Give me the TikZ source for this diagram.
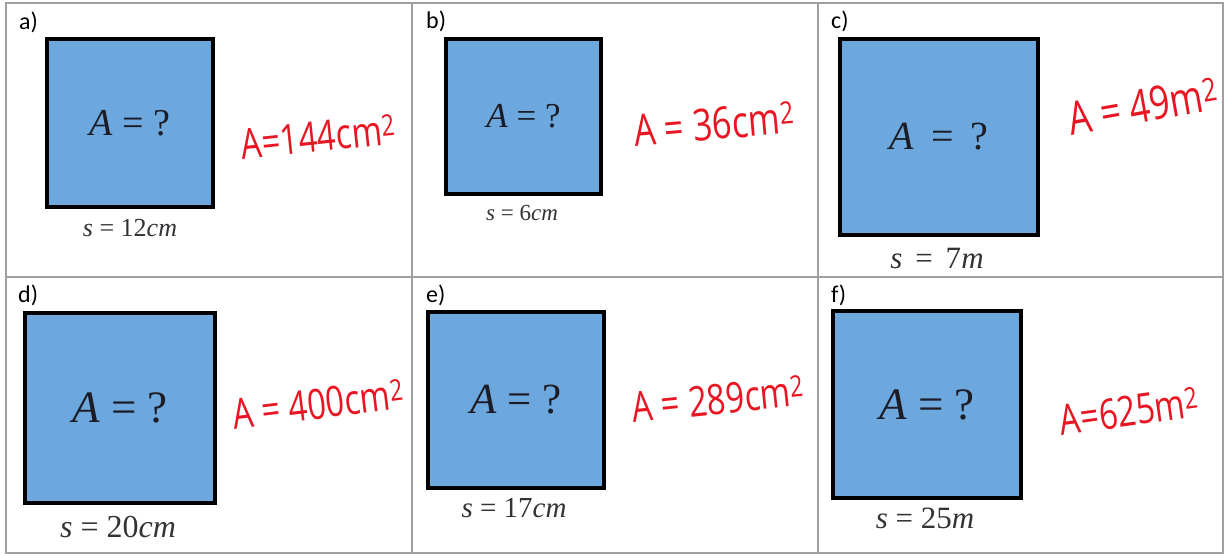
\documentclass[tikz,border=0pt]{standalone}
\usepackage{fontspec}
\setmainfont{Liberation Serif}
\newfontfamily\labfont{Carlito}
\newfontfamily\handfont{Open Sans}
\definecolor{sqblue}{RGB}{108,168,221}
\definecolor{gridgray}{RGB}{160,160,160}
\definecolor{inkred}{RGB}{232,22,34}
\definecolor{txtdark}{RGB}{28,28,38}
\definecolor{txtside}{RGB}{50,50,55}
\tikzset{
  sq/.style={draw=black, line width=3.4pt, fill=sqblue, inner sep=0pt, text=txtdark},
  sidelab/.style={text=txtside, inner sep=0pt},
  cell/.style={anchor=base west, inner sep=0pt, text=black, font=\labfont\fontsize{24}{26}\selectfont},
  ink/.style={text=inkred, inner sep=0pt},
  gridline/.style={draw=gridgray, line width=1.4pt}
}
\newcommand{\fsz}[1]{\fontsize{#1}{#1}\selectfont}
\newcommand{\hw}[2]{\scalebox{0.78}[1]{\handfont\fsz{#1}#2}}
\begin{document}
\begin{tikzpicture}[x=1pt,y=-1pt]
\useasboundingbox (0,0) rectangle (1228,555);
% table grid
\draw[gridline] (6,3) rectangle (1223,553);
\draw[gridline] (412,3) -- (412,553);
\draw[gridline] (818,3) -- (818,553);
\draw[gridline] (6,277) -- (1223,277);
% cell labels
\node[cell] (la) at (19,29) {a)};
\node[cell] (lb) at (426,28) {b)};
\node[cell] (lc) at (831,28) {c)};
\node[cell] (ld) at (18,302) {d)};
\node[cell] (le) at (426,302) {e)};
\node[cell] (lf) at (831,302) {f)};
% squares
\node[sq, minimum width=166pt, minimum height=168pt, font=\fsz{38}] (sqa) at (130,123) {{\itshape A} = ?};
\node[sq, minimum width=155pt, minimum height=155pt, font=\fsz{35}] (sqb) at (523.5,116.5) {\raisebox{-6pt}{{\itshape A} = ?}};
\node[sq, minimum width=198pt, minimum height=196pt, font=\fsz{40}] (sqc) at (939,137) {\raisebox{-6pt}{{\itshape A}\, = \,?}};
\node[sq, minimum width=190pt, minimum height=190pt, font=\fsz{45}] (sqd) at (120,408) {{\itshape A} = ?};
\node[sq, minimum width=176pt, minimum height=176pt, font=\fsz{43}] (sqe) at (516,400) {{\itshape A} = ?};
\node[sq, minimum width=188pt, minimum height=187pt, font=\fsz{45}] (sqf) at (927,404.5) {\raisebox{-4pt}{{\itshape A} = ?}};
% side lengths
\node[sidelab, font=\fsz{26}] (sa) at (130,228) {{\itshape s} = 12{\itshape cm}};
\node[sidelab, font=\fsz{23}] (sb) at (522,213) {{\itshape s} = 6{\itshape cm}};
\node[sidelab, font=\fsz{31}] (sc) at (937,258) {{\itshape s}\, = \,7{\itshape m}};
\node[sidelab, font=\fsz{32}] (sd) at (118,527) {{\itshape s} = 20{\itshape cm}};
\node[sidelab, font=\fsz{29}] (se) at (514,508) {{\itshape s} = 17{\itshape cm}};
\node[sidelab, font=\fsz{31}] (sf) at (925,518) {{\itshape s} = 25{\itshape m}};
% handwritten answers
\node[ink, rotate=6] (ha) at (318,137) {\hw{42}{A=144cm\textsuperscript{2}}};
\node[ink, rotate=5] (hb) at (714,124) {\hw{44}{A = 36cm\textsuperscript{2}}};
\node[ink, rotate=10] (hc) at (1143,106) {\hw{46}{A = 49m\textsuperscript{2}}};
\node[ink, rotate=7] (hd) at (318,404) {\hw{42}{A = 400cm\textsuperscript{2}}};
\node[ink, rotate=6] (he) at (718,399) {\hw{42}{A = 289cm\textsuperscript{2}}};
\node[ink, rotate=8] (hf) at (1129,411) {\hw{42}{A=625m\textsuperscript{2}}};
\end{tikzpicture}
\end{document}
